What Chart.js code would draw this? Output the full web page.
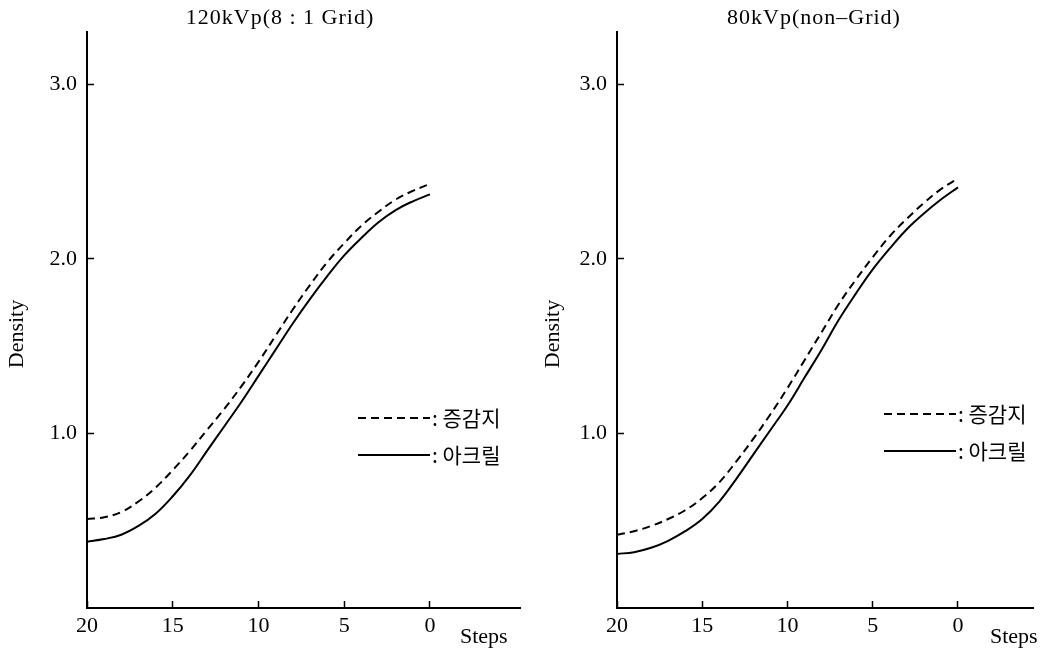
<!DOCTYPE html>
<html>
<head>
<meta charset="utf-8">
<script src="https://cdn.jsdelivr.net/npm/chart.js@4/dist/chart.umd.min.js"></script>
<style>
  html, body { margin: 0; padding: 0; background: #fff; }
  .panel { position: absolute; top: 0; height: 650px; }
</style>
</head>
<body>
<div class="panel" style="left:0"><canvas id="gridChart" width="530" height="650"></canvas></div>
<div class="panel" style="left:530px"><canvas id="nonGridChart" width="529" height="650"></canvas></div>
<script>
// steps of the step wedge, read right to left on the axis
const steps = [20, 19, 18, 17, 16, 15, 14, 13, 12, 11, 10, 9, 8, 7, 6, 5, 4, 3, 2, 1, 0];

// 120kVp (8:1 grid)
const gridScreen = [0.51, 0.52, 0.55, 0.61, 0.69, 0.79, 0.90, 1.02, 1.14, 1.27, 1.41, 1.56, 1.71, 1.85, 1.98, 2.09, 2.19, 2.27, 2.34, 2.39, 2.43];
const gridAcryl  = [0.38, 0.395, 0.42, 0.47, 0.54, 0.64, 0.76, 0.90, 1.04, 1.18, 1.33, 1.48, 1.63, 1.77, 1.90, 2.02, 2.12, 2.21, 2.28, 2.33, 2.37];

// 80kVp (non-grid)
const nonGridScreen = [0.42, 0.44, 0.47, 0.51, 0.56, 0.63, 0.72, 0.84, 0.97, 1.11, 1.26, 1.42, 1.58, 1.74, 1.88, 2.01, 2.13, 2.23, 2.32, 2.40, 2.46];
const nonGridAcryl  = [0.31, 0.32, 0.345, 0.385, 0.44, 0.51, 0.61, 0.74, 0.88, 1.02, 1.16, 1.32, 1.48, 1.65, 1.80, 1.94, 2.06, 2.17, 2.26, 2.34, 2.41];

const stepTicks = [20, 15, 10, 5, 0];
const densityTicks = [1, 2, 3];
const legendLabels = [': 증감지', ': 아크릴'];

const serif = '"Liberation Serif", "DejaVu Serif", serif';
const korean = '"Noto Sans CJK KR", "Noto Sans", sans-serif';

// titles, axis names and the little key are drawn on top of each chart
const textPlugin = {
  id: 'chartTexts',
  afterDraw(chart, args, opts) {
    const ctx = chart.ctx;
    ctx.save();
    ctx.fillStyle = '#000';
    ctx.textBaseline = 'middle';

    // chart title
    ctx.font = '22px ' + serif;
    ctx.textAlign = 'center';
    ctx.letterSpacing = '1px';
    ctx.fillText(opts.title, opts.titleX, 18);
    ctx.letterSpacing = '0px';

    // x axis name
    ctx.font = '22px ' + serif;
    ctx.textAlign = 'left';
    ctx.fillText('Steps', opts.stepsX, 637);

    // y axis name
    ctx.save();
    ctx.translate(opts.densityX, 334);
    ctx.rotate(-Math.PI / 2);
    ctx.textAlign = 'center';
    ctx.fillText('Density', 0, 0);
    ctx.restore();

    // key
    chart.data.datasets.forEach((ds, i) => {
      const y = opts.keyY + i * 37;
      ctx.beginPath();
      ctx.lineWidth = 2;
      ctx.strokeStyle = '#000';
      ctx.setLineDash(ds.borderDash || []);
      ctx.moveTo(opts.keyX, y);
      ctx.lineTo(opts.keyX + 72, y);
      ctx.stroke();
      ctx.setLineDash([]);
      ctx.font = '21px ' + korean;
      ctx.textAlign = 'left';
      ctx.fillText(ds.label, opts.keyX + 74, y);
    });
    ctx.restore();
  }
};

function makeChart(canvasId, screenData, acrylData, xMin, padRight, texts) {
  return new Chart(document.getElementById(canvasId), {
    type: 'line',
    data: {
      datasets: [
        {
          label: legendLabels[0],
          data: steps.map((s, i) => ({ x: s, y: screenData[i] })),
          borderColor: '#000',
          borderWidth: 2,
          borderDash: [8, 5],
          pointRadius: 0,
          tension: 0.4,
          fill: false
        },
        {
          label: legendLabels[1],
          data: steps.map((s, i) => ({ x: s, y: acrylData[i] })),
          borderColor: '#000',
          borderWidth: 2,
          pointRadius: 0,
          tension: 0.4,
          fill: false
        }
      ]
    },
    options: {
      responsive: false,
      animation: false,
      layout: { padding: { top: 32, right: padRight, left: 0, bottom: 0 } },
      plugins: {
        legend: { display: false },
        tooltip: { enabled: false },
        chartTexts: texts
      },
      scales: {
        x: {
          type: 'linear',
          reverse: true,
          min: xMin,
          max: 20,
          afterBuildTicks: scale => { scale.ticks = stepTicks.map(v => ({ value: v })); },
          afterFit: scale => { scale.height = 42; },
          border: { color: '#000', width: 2 },
          grid: { drawOnChartArea: false, drawTicks: true, tickLength: -7, tickColor: '#000', tickWidth: 1.5 },
          ticks: {
            color: '#000',
            padding: 12,
            autoSkip: false,
            maxRotation: 0,
            font: { family: serif, size: 22 },
            callback: v => String(v)
          }
        },
        y: {
          min: 0,
          max: 3.3,
          afterBuildTicks: scale => { scale.ticks = densityTicks.map(v => ({ value: v })); },
          afterFit: scale => { scale.width = 87; },
          border: { color: '#000', width: 2 },
          grid: { drawOnChartArea: false, drawTicks: true, tickLength: -7, tickColor: '#000', tickWidth: 1.5 },
          ticks: {
            color: '#000',
            padding: 17,
            autoSkip: false,
            font: { family: serif, size: 22 },
            callback: v => v.toFixed(1)
          }
        }
      }
    },
    plugins: [textPlugin]
  });
}

makeChart('gridChart', gridScreen, gridAcryl, -5.25, 10,
  { title: '120kVp(8 : 1 Grid)', titleX: 280, stepsX: 460, densityX: 17, keyX: 358, keyY: 418 });
makeChart('nonGridChart', nonGridScreen, nonGridAcryl, -4.4, 26,
  { title: '80kVp(non–Grid)', titleX: 284, stepsX: 460, densityX: 23, keyX: 354, keyY: 414 });
</script>
</body>
</html>
